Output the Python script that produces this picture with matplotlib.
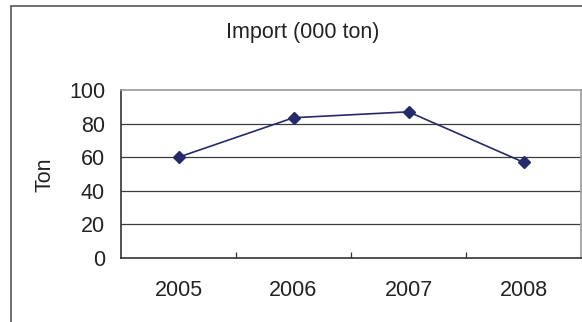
import matplotlib
matplotlib.use("Agg")
import matplotlib.pyplot as plt
from matplotlib.patches import Rectangle

plt.rcParams['font.family'] = ['Liberation Sans', 'DejaVu Sans']

years = ['2005', '2006', '2007', '2008']
imports = [60, 83.5, 87, 57]
y_ticks = [0, 20, 40, 60, 80, 100]

W, H = 582, 322
fig = plt.figure(figsize=(W / 100, H / 100), dpi=100)

# chart border (only the left and top edges fall inside the figure)
fig.patches.append(Rectangle((11 / W, -0.2), 1.2, (H - 5.7) / H + 0.2,
                             transform=fig.transFigure, fill=False,
                             edgecolor='#555555', linewidth=1.2))

ax = fig.add_axes([121 / W, (H - 258) / H, (581 - 121) / W, (258 - 90) / H])

x = list(range(len(years)))
ax.plot(x, imports, color='#262a6b', linewidth=1.2, marker='D',
        markersize=6, markerfacecolor='#262a6b', markeredgecolor='#262a6b',
        zorder=3)

ax.set_xlim(-0.5, len(years) - 0.5)
ax.set_ylim(0, 100)
ax.set_yticks(y_ticks)
ax.set_yticklabels([str(v) for v in y_ticks])
for v in y_ticks[1:-1]:
    ax.axhline(v, color='#3c3c3c', linewidth=0.9, zorder=1)

ax.set_xticks(x)
ax.set_xticklabels(years)
ax.set_xticks([i + 0.5 for i in x[:-1]], minor=True)
ax.tick_params(axis='x', which='major', length=0, pad=16, labelsize=15.5, colors='#222222')
ax.tick_params(axis='x', which='minor', direction='in', length=4, width=0.9, color='#333333')
ax.tick_params(axis='y', length=0, pad=11.5, labelsize=15.5, colors='#222222')

for side in ['left', 'bottom']:
    ax.spines[side].set_color('#333333')
    ax.spines[side].set_linewidth(1.2)
for side in ['top', 'right']:
    ax.spines[side].set_color('#999999')
    ax.spines[side].set_linewidth(1.2)

fig.text(303 / W, (H - 38) / H, 'Import (000 ton)', ha='center', va='baseline',
         fontsize=15.5, color='#222222')
fig.text(45 / W, (H - 175) / H, 'Ton', ha='center', va='center', rotation=90,
         fontsize=15.5, color='#222222')

fig.savefig('out.png', dpi=100)
